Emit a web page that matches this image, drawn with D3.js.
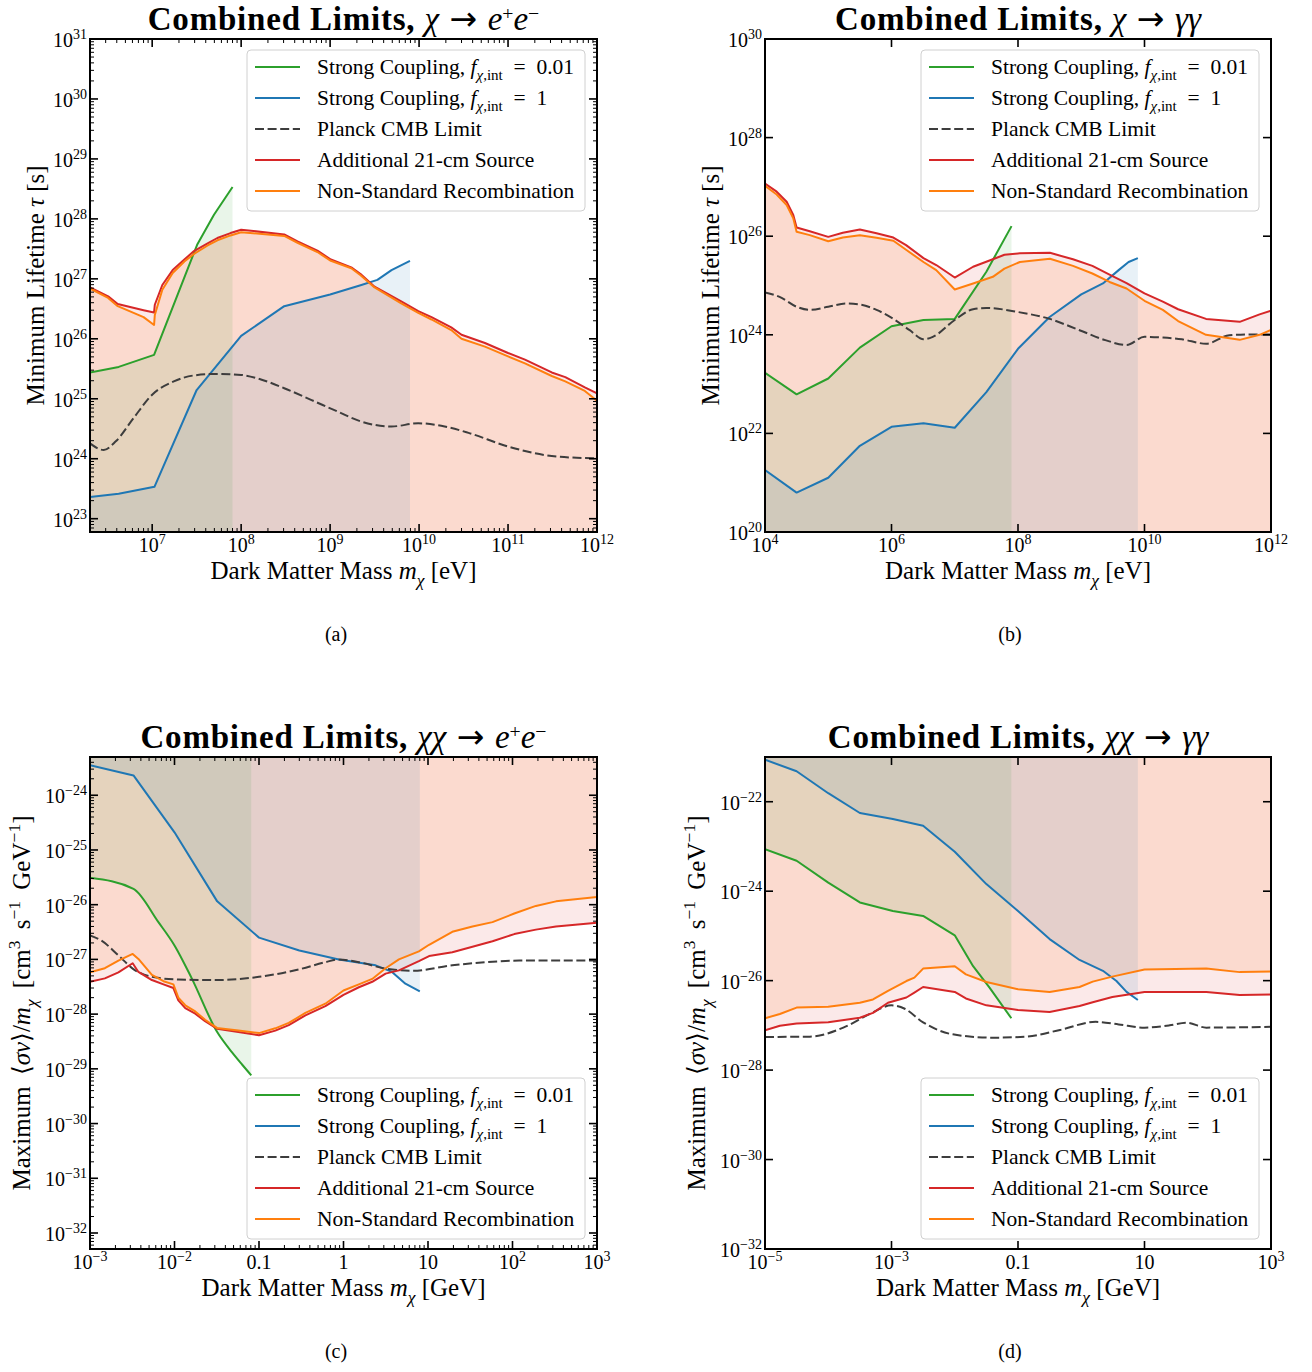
<!DOCTYPE html>
<html>
<head>
<meta charset="utf-8">
<script src="https://cdn.jsdelivr.net/npm/d3@7"></script>
<style>
  body { margin: 0; background: #fff; }
  svg { display: block; }
  text { font-family: "Liberation Serif", "DejaVu Serif", serif; fill: #000; }
</style>
</head>
<body>
<svg id="fig" width="1312" height="1372"></svg>
<script>
// ---------------- data ----------------
// (a) chi -> e+e-: minimum lifetime [s] vs mass [eV]
const massA = [2e6, 3.2e6, 4.1e6, 8e6, 1.05e7, 1.07e7, 1.3e7, 1.7e7, 2.3e7, 2.95e7, 4.2e7, 5.4e7, 7.6e7, 1e8, 3.05e8, 4.3e8, 7.2e8, 1.02e9, 1.73e9, 2.2e9, 3.16e9, 6.3e9, 9.8e9, 1.38e10, 2.3e10, 3e10, 5.5e10, 1e11, 1.55e11, 3.1e11, 4.4e11, 7.3e11, 1e12];
const redA = [7.2e26, 5.1e26, 3.8e26, 3.0e26, 2.75e26, 3.7e26, 7.9e26, 1.4e27, 2.1e27, 2.9e27, 3.9e27, 4.8e27, 5.8e27, 6.6e27, 5.5e27, 4.2e27, 2.95e27, 2.1e27, 1.55e27, 1.2e27, 7.4e26, 4.2e26, 2.9e26, 2.3e26, 1.55e26, 1.17e26, 8.5e25, 5.8e25, 4.5e25, 2.75e25, 2.3e25, 1.55e25, 1.23e25];
const orangeA = [6.9e26, 4.8e26, 3.5e26, 2.3e26, 1.7e26, 2.5e26, 6.6e26, 1.25e27, 1.95e27, 2.6e27, 3.6e27, 4.4e27, 5.3e27, 6.0e27, 5.2e27, 4.0e27, 2.8e27, 2.0e27, 1.5e27, 1.15e27, 7.2e26, 3.9e26, 2.7e26, 2.1e26, 1.4e26, 1.0e26, 7.4e25, 5.1e25, 3.9e25, 2.4e25, 1.95e25, 1.35e25, 9.3e24];
const greenMassA = [2e6, 4.2e6, 1.05e7, 3.2e7, 4.95e7, 8e7];
const greenA = [2.75e25, 3.4e25, 5.4e25, 3.7e27, 1.17e28, 3.4e28];
const blueMassA = [2e6, 4.2e6, 1.06e7, 3.16e7, 1e8, 3.05e8, 1e9, 2.2e9, 3.4e9, 4.9e9, 7.9e9];
const blueA = [2.3e23, 2.6e23, 3.4e23, 1.4e25, 1.12e26, 3.5e26, 5.5e26, 7.8e26, 9.6e26, 1.4e27, 2e27];
const planckMassA = [2e6, 2.85e6, 3.9e6, 6.2e6, 1e7, 1.75e7, 2.95e7, 5.4e7, 1e8, 1.67e8, 3.05e8, 6.1e8, 1.22e9, 2.2e9, 4.9e9, 9.8e9, 1.94e10, 3.6e10, 1e11, 2.6e11, 5e11, 1e12];
const planckA = [1.8e24, 1.4e24, 1.95e24, 4.8e24, 1.17e25, 1.95e25, 2.45e25, 2.6e25, 2.5e25, 2.1e25, 1.5e25, 9.6e24, 6.1e24, 4.2e24, 3.45e24, 3.9e24, 3.45e24, 2.7e24, 1.6e24, 1.15e24, 1.05e24, 1.02e24];

// (b) chi -> gamma gamma: minimum lifetime [s] vs mass [eV]
const massB = [1e4, 1.53e4, 2.2e4, 2.8e4, 3.16e4, 5.1e4, 1e5, 1.7e5, 3.16e5, 5.8e5, 1.07e6, 1.7e6, 3.2e6, 5.1e6, 1e7, 1.95e7, 4e7, 6.1e7, 1.07e8, 3.2e8, 7.4e8, 1.5e9, 2.8e9, 5.2e9, 1e10, 1.95e10, 3.4e10, 9.4e10, 3.2e11, 6.6e11, 1e12];
const redB = [1.17e27, 8e26, 5e26, 2.7e26, 1.5e26, 1.26e26, 9.7e25, 1.17e26, 1.37e26, 1.15e26, 9.4e25, 6.6e25, 3.6e25, 2.6e25, 1.45e25, 2.4e25, 3.4e25, 4.2e25, 4.5e25, 4.6e25, 3.4e25, 2.5e25, 1.67e25, 1.12e25, 6.9e24, 4.7e24, 3.3e24, 2.1e24, 1.83e24, 2.6e24, 3.1e24];
const orangeB = [1.05e27, 7e26, 4.3e26, 2.3e26, 1.23e26, 1.05e26, 7.9e25, 9.4e25, 1.05e26, 9.3e25, 8.1e25, 5.3e25, 3.0e25, 2.05e25, 8.3e24, 1.1e25, 1.5e25, 2.2e25, 3.0e25, 3.5e25, 2.5e25, 1.75e25, 1.18e25, 8.7e24, 4.9e24, 3.2e24, 1.9e24, 1e24, 7.9e23, 1e24, 1.26e24];
const greenMassB = [1e4, 3.16e4, 1e5, 3.16e5, 1e6, 3.2e6, 1e7, 3.16e7, 7.9e7];
const greenB = [1.7e23, 6.2e22, 1.3e23, 5.5e23, 1.49e24, 2e24, 2.1e24, 1.9e25, 1.6e26];
const blueMassB = [1e4, 3.16e4, 1e5, 3.16e5, 1e6, 3.2e6, 1e7, 3.16e7, 1e8, 3.16e8, 1e9, 2.2e9, 3.9e9, 5.6e9, 7.85e9];
const blueB = [1.8e21, 6.3e20, 1.26e21, 5.6e21, 1.36e22, 1.6e22, 1.3e22, 6.9e22, 5.2e23, 2.3e24, 6.6e24, 1.1e25, 2.05e25, 3e25, 3.6e25];
const planckMassB = [1e4, 1.7e4, 3.16e4, 5.1e4, 1e5, 1.94e5, 3.16e5, 5.8e5, 1.07e6, 1.94e6, 3.2e6, 4.5e6, 1e7, 1.95e7, 3.16e7, 1e8, 3.16e8, 9.4e8, 2.4e9, 5.2e9, 1e10, 1.95e10, 3.9e10, 9.4e10, 2.2e11, 5.1e11, 1e12];
const planckB = [7.2e24, 5.9e24, 3.7e24, 3.2e24, 3.7e24, 4.3e24, 4.1e24, 3.2e24, 2.1e24, 1.24e24, 8.1e23, 9.1e23, 2.0e24, 3.3e24, 3.5e24, 2.9e24, 2.1e24, 1.24e24, 7.8e23, 6.2e23, 9.1e23, 8.8e23, 8.1e23, 6.6e23, 9.8e23, 1.02e24, 1.02e24];

// (c) chi chi -> e+e-: maximum <sigma v>/m [cm^3 s^-1 GeV^-1] vs mass [GeV]
const massC = [1e-3, 1.5e-3, 2.17e-3, 3.2e-3, 3.74e-3, 5.4e-3, 7.4e-3, 9.7e-3, 1.11e-2, 1.34e-2, 1.76e-2, 2.3e-2, 3.18e-2, 5.7e-2, 0.1, 0.156, 0.225, 0.354, 0.61, 1.0, 1.52, 2.19, 3.15, 4.53, 7.8, 10.3, 19.4, 33.6, 58, 105, 189, 327, 1000];
const redC = [3.9e-28, 4.5e-28, 5.8e-28, 8.5e-28, 5.9e-28, 4.2e-28, 3.5e-28, 3.0e-28, 1.78e-28, 1.29e-28, 1.02e-28, 7.4e-29, 5.4e-29, 4.7e-29, 4.1e-29, 5e-29, 6.3e-29, 9.5e-29, 1.4e-28, 2.25e-28, 3.1e-28, 3.9e-28, 5.5e-28, 6.3e-28, 9.3e-28, 1.15e-27, 1.35e-27, 1.7e-27, 2.15e-27, 2.9e-27, 3.5e-27, 4e-27, 4.7e-27];
const orangeC = [5.8e-28, 6.9e-28, 9.5e-28, 1.26e-27, 1.02e-27, 5.2e-28, 4e-28, 3.5e-28, 2.0e-28, 1.45e-28, 1.12e-28, 7.9e-29, 5.6e-29, 5e-29, 4.5e-29, 5.5e-29, 6.9e-29, 1.05e-28, 1.55e-28, 2.7e-28, 3.5e-28, 4.4e-28, 6.9e-28, 1e-27, 1.4e-27, 1.85e-27, 3.2e-27, 4e-27, 4.8e-27, 6.9e-27, 9.5e-27, 1.15e-26, 1.38e-26];
const greenMassC = [1e-3, 3.27e-3, 6.45e-3, 1e-2, 1.6e-2, 3.2e-2, 4.8e-2, 6.3e-2, 8.1e-2];
const greenC = [3.1e-26, 1.95e-26, 4.8e-27, 1.8e-27, 4.5e-28, 4.7e-29, 2e-29, 1.2e-29, 7.6e-30];
const blueMassC = [1e-3, 3.27e-3, 1e-2, 3.2e-2, 0.1, 0.3, 0.88, 2.4, 3.75, 5.4, 8.0];
const blueC = [3.55e-24, 2.3e-24, 2.1e-25, 1.15e-26, 2.5e-27, 1.45e-27, 1e-27, 7.8e-28, 5.9e-28, 3.6e-28, 2.6e-28];
const planckMassC = [1e-3, 1.37e-3, 2.17e-3, 3.2e-3, 5.4e-3, 1.11e-2, 3.2e-2, 0.1, 0.3, 0.61, 0.88, 1.52, 3.15, 6.5, 19.4, 48, 120, 1000];
const planckC = [2.75e-27, 2.2e-27, 1.18e-27, 6.8e-28, 4.8e-28, 4.3e-28, 4.2e-28, 4.8e-28, 6.6e-28, 8.9e-28, 1e-27, 8.9e-28, 6.8e-28, 6.2e-28, 7.8e-28, 8.9e-28, 9.5e-28, 9.5e-28];

// (d) chi chi -> gamma gamma: maximum <sigma v>/m [cm^3 s^-1 GeV^-1] vs mass [GeV]
const massD = [1e-5, 1.72e-5, 3.16e-5, 1e-4, 3.16e-4, 5.1e-4, 8.8e-4, 1.72e-3, 2.3e-3, 3.16e-3, 1e-2, 1.5e-2, 3.16e-2, 0.1, 0.316, 0.94, 1.52, 3.1, 10, 95, 320, 1000];
const redD = [7.8e-28, 9.8e-28, 1.1e-27, 1.17e-27, 1.48e-27, 1.9e-27, 3.2e-27, 4.2e-27, 5.4e-27, 7.2e-27, 5.6e-27, 4e-27, 2.8e-27, 2.2e-27, 2.0e-27, 2.7e-27, 3.3e-27, 4.3e-27, 5.6e-27, 5.6e-27, 4.8e-27, 4.9e-27];
const orangeD = [1.44e-27, 1.8e-27, 2.5e-27, 2.6e-27, 3.2e-27, 3.8e-27, 5.9e-27, 9.8e-27, 1.17e-26, 1.86e-26, 2.1e-26, 1.38e-26, 9.3e-27, 6.4e-27, 5.6e-27, 7.2e-27, 9.5e-27, 1.23e-26, 1.78e-26, 1.86e-26, 1.55e-26, 1.61e-26];
const greenMassD = [1e-5, 3.16e-5, 1e-4, 3.16e-4, 1.05e-3, 3.16e-3, 1e-2, 1.95e-2, 3.57e-2, 7.85e-2];
const greenD = [8.7e-24, 4.8e-24, 1.55e-24, 5.6e-25, 3.6e-25, 2.8e-25, 1.03e-25, 2.1e-26, 6.9e-27, 1.44e-27];
const blueMassD = [1e-5, 3.16e-5, 1e-4, 3.16e-4, 1.05e-3, 3.16e-3, 1e-2, 3.16e-2, 0.1, 0.316, 0.94, 2.2, 3.6, 5.2, 7.85];
const blueD = [8.7e-22, 4.8e-22, 1.55e-22, 5.6e-23, 4.1e-23, 2.9e-23, 7.6e-24, 1.44e-24, 3.6e-25, 8.5e-26, 2.9e-26, 1.66e-26, 9.8e-27, 5.6e-27, 3.7e-27];
const planckMassD = [1e-5, 5.1e-5, 1.73e-4, 4.55e-4, 1e-3, 1.62e-3, 3.16e-3, 9.3e-3, 4.04e-2, 0.135, 0.46, 1.69, 3.9, 10, 25, 46, 95, 1000];
const planckD = [5.5e-28, 5.6e-28, 8.9e-28, 1.8e-27, 2.8e-27, 2.35e-27, 1.17e-27, 6.3e-28, 5.3e-28, 5.6e-28, 7.9e-28, 1.2e-27, 1.05e-27, 8.9e-28, 1e-27, 1.15e-27, 8.9e-28, 9.3e-28];

// tick values and labels ([mantissa text, exponent text])
const xTicksA = [1e7, 1e8, 1e9, 1e10, 1e11, 1e12];
const xLabelsA = [["10","7"],["10","8"],["10","9"],["10","10"],["10","11"],["10","12"]];
const yTicksA = [1e23, 1e24, 1e25, 1e26, 1e27, 1e28, 1e29, 1e30, 1e31];
const yLabelsA = [["10","23"],["10","24"],["10","25"],["10","26"],["10","27"],["10","28"],["10","29"],["10","30"],["10","31"]];
const xTicksB = [1e4, 1e6, 1e8, 1e10, 1e12];
const xLabelsB = [["10","4"],["10","6"],["10","8"],["10","10"],["10","12"]];
const yTicksB = [1e20, 1e22, 1e24, 1e26, 1e28, 1e30];
const yLabelsB = [["10","20"],["10","22"],["10","24"],["10","26"],["10","28"],["10","30"]];
const xTicksC = [1e-3, 1e-2, 0.1, 1, 10, 1e2, 1e3];
const xLabelsC = [["10","\u22123"],["10","\u22122"],["0.1",""],["1",""],["10",""],["10","2"],["10","3"]];
const yTicksC = [1e-32, 1e-31, 1e-30, 1e-29, 1e-28, 1e-27, 1e-26, 1e-25, 1e-24];
const yLabelsC = [["10","\u221232"],["10","\u221231"],["10","\u221230"],["10","\u221229"],["10","\u221228"],["10","\u221227"],["10","\u221226"],["10","\u221225"],["10","\u221224"]];
const xTicksD = [1e-5, 1e-3, 0.1, 10, 1e3];
const xLabelsD = [["10","\u22125"],["10","\u22123"],["0.1",""],["10",""],["10","3"]];
const yTicksD = [1e-32, 1e-30, 1e-28, 1e-26, 1e-24, 1e-22];
const yLabelsD = [["10","\u221232"],["10","\u221230"],["10","\u221228"],["10","\u221226"],["10","\u221224"],["10","\u221222"]];

const legendNames = ["Strong Coupling", "Strong Coupling", "Planck CMB Limit", "Additional 21-cm Source", "Non-Standard Recombination"];
const couplingFractions = ["0.01", "1"];

// ---------------- styles ----------------
const COLORS = { green: "#2ca02c", blue: "#1f77b4", planck: "#3d3d3d", red: "#d62728", orange: "#ff7f0e" };
const FILL_OPACITY = { green: 0.1, blue: 0.1, red: 0.1, orange: 0.12 };
const LINE_W = 2;
const DASH = "9,3.6";

const svg = d3.select("#fig");
const defs = svg.append("defs");

// writes a run of text pieces with italic / super / subscript support
function rich(sel, parts, size, opts = {}) {
  const supScale = opts.supScale || 0.7, supRaise = opts.supRaise || 0.4;
  let shift = 0;
  parts.forEach(p => {
    const fs = p.sup ? size * supScale : p.sub ? size * 0.7 : size;
    const target = p.sup ? -size * supRaise : p.sub ? size * 0.27 : 0;
    const ts = sel.append("tspan").text(p.t).attr("font-size", fs);
    if (target !== shift) { ts.attr("dy", target - shift); shift = target; }
    if (p.it) ts.attr("font-style", "italic");
    if (p.sans) ts.attr("font-family", "'DejaVu Sans', sans-serif");
    if (p.bold) ts.attr("font-weight", "bold").attr("letter-spacing", opts.boldSpacing || 0);
  });
}

function tickLabelParts(l) {
  return l[1] ? [{ t: l[0] }, { t: l[1], sup: true }] : [{ t: l[0] }];
}

function minorValues(domain) {
  const lo = Math.floor(Math.log10(domain[0])), hi = Math.ceil(Math.log10(domain[1]));
  const out = [];
  for (let k = lo; k <= hi; k++) {
    for (let m = 2; m <= 9; m++) {
      const v = m * Math.pow(10, k);
      if (v > domain[0] * 1.0001 && v < domain[1] * 0.9999) out.push(v);
    }
  }
  return out;
}

const ARROW = { t: " \u2192 ", sans: true };
const panels = [
  {
    id: "a", left: 90, top: 39, width: 507, height: 493,
    xDomain: [2e6, 1e12], yDomain: [6e22, 1e31], fillBelow: true, minor: true,
    xTicks: xTicksA, xLabels: xLabelsA, yTicks: yTicksA, yLabels: yLabelsA,
    mass: massA, red: redA, orange: orangeA,
    greenMass: greenMassA, green: greenA, blueMass: blueMassA, blue: blueA,
    planckMass: planckMassA, planck: planckA, greenCurve: d3.curveLinear,
    title: [{ t: "Combined Limits, ", bold: true }, { t: "\u03c7", it: true }, ARROW, { t: "e", it: true }, { t: "+", sup: true }, { t: "e", it: true }, { t: "\u2212", sup: true }],
    unit: "eV", yKind: "lifetime", legendAtTop: true, caption: "(a)", captionX: 336
  },
  {
    id: "b", left: 765, top: 39, width: 506, height: 493,
    xDomain: [1e4, 1e12], yDomain: [1e20, 1e30], fillBelow: true, minor: false,
    xTicks: xTicksB, xLabels: xLabelsB, yTicks: yTicksB, yLabels: yLabelsB,
    mass: massB, red: redB, orange: orangeB,
    greenMass: greenMassB, green: greenB, blueMass: blueMassB, blue: blueB,
    planckMass: planckMassB, planck: planckB, greenCurve: d3.curveLinear,
    title: [{ t: "Combined Limits, ", bold: true }, { t: "\u03c7", it: true }, ARROW, { t: "\u03b3\u03b3", it: true }],
    unit: "eV", yKind: "lifetime", legendAtTop: true, caption: "(b)", captionX: 1010
  },
  {
    id: "c", left: 90, top: 757, width: 507, height: 492,
    xDomain: [1e-3, 1e3], yDomain: [5.1e-33, 5e-24], fillBelow: false, minor: true,
    xTicks: xTicksC, xLabels: xLabelsC, yTicks: yTicksC, yLabels: yLabelsC,
    mass: massC, red: redC, orange: orangeC,
    greenMass: greenMassC, green: greenC, blueMass: blueMassC, blue: blueC,
    planckMass: planckMassC, planck: planckC, greenCurve: d3.curveMonotoneX,
    title: [{ t: "Combined Limits, ", bold: true }, { t: "\u03c7\u03c7", it: true }, ARROW, { t: "e", it: true }, { t: "+", sup: true }, { t: "e", it: true }, { t: "\u2212", sup: true }],
    unit: "GeV", yKind: "xsec", legendAtTop: false, caption: "(c)", captionX: 336
  },
  {
    id: "d", left: 765, top: 757, width: 506, height: 492,
    xDomain: [1e-5, 1e3], yDomain: [1e-32, 1e-21], fillBelow: false, minor: false,
    xTicks: xTicksD, xLabels: xLabelsD, yTicks: yTicksD, yLabels: yLabelsD,
    mass: massD, red: redD, orange: orangeD,
    greenMass: greenMassD, green: greenD, blueMass: blueMassD, blue: blueD,
    planckMass: planckMassD, planck: planckD, greenCurve: d3.curveLinear,
    title: [{ t: "Combined Limits, ", bold: true }, { t: "\u03c7\u03c7", it: true }, ARROW, { t: "\u03b3\u03b3", it: true }],
    unit: "GeV", yKind: "xsec", legendAtTop: false, caption: "(d)", captionX: 1010
  }
];

panels.forEach(drawPanel);

function drawPanel(p) {
  const x = d3.scaleLog().domain(p.xDomain).range([0, p.width]);
  const y = d3.scaleLog().domain(p.yDomain).range([p.height, 0]);
  const g = svg.append("g").attr("transform", `translate(${p.left},${p.top})`);

  defs.append("clipPath").attr("id", "clip-" + p.id)
    .append("rect").attr("width", p.width).attr("height", p.height);
  const plot = g.append("g").attr("clip-path", `url(#clip-${p.id})`);

  // excluded regions: below the lifetime bounds, above the cross-section bounds
  const edge = p.fillBelow ? p.height : 0;
  const zip = (xs, ys) => xs.map((m, i) => [m, ys[i]]);
  const area = (curve) => d3.area().x(d => x(d[0])).y0(edge).y1(d => y(d[1])).curve(curve);
  const line = (curve) => d3.line().x(d => x(d[0])).y(d => y(d[1])).curve(curve);

  const fills = [
    { key: "orange", data: zip(p.mass, p.orange), curve: d3.curveLinear },
    { key: "red", data: zip(p.mass, p.red), curve: d3.curveLinear },
    { key: "green", data: zip(p.greenMass, p.green), curve: p.greenCurve },
    { key: "blue", data: zip(p.blueMass, p.blue), curve: d3.curveLinear }
  ];
  fills.forEach(f => {
    plot.append("path").datum(f.data)
      .attr("d", area(f.curve))
      .attr("fill", COLORS[f.key]).attr("fill-opacity", FILL_OPACITY[f.key])
      .attr("stroke", "none");
  });

  const lines = [
    { key: "green", data: zip(p.greenMass, p.green), curve: p.greenCurve },
    { key: "blue", data: zip(p.blueMass, p.blue), curve: d3.curveLinear },
    { key: "planck", data: zip(p.planckMass, p.planck), curve: d3.curveMonotoneX, dash: true },
    { key: "red", data: zip(p.mass, p.red), curve: d3.curveLinear },
    { key: "orange", data: zip(p.mass, p.orange), curve: d3.curveLinear }
  ];
  lines.forEach(l => {
    plot.append("path").datum(l.data)
      .attr("d", line(l.curve))
      .attr("fill", "none").attr("stroke", COLORS[l.key])
      .attr("stroke-width", LINE_W).attr("stroke-linejoin", "round")
      .attr("stroke-dasharray", l.dash ? DASH : null);
  });

  // ticks on all four sides, pointing inward
  const tickG = g.append("g").attr("stroke", "#000");
  const majLen = 8, minLen = 4;
  const xMinor = p.minor ? minorValues(p.xDomain) : [];
  const yMinor = p.minor ? minorValues(p.yDomain) : [];
  p.xTicks.forEach(v => {
    const px = x(v);
    tickG.append("line").attr("x1", px).attr("x2", px).attr("y1", p.height).attr("y2", p.height - majLen).attr("stroke-width", 1.6);
    tickG.append("line").attr("x1", px).attr("x2", px).attr("y1", 0).attr("y2", majLen).attr("stroke-width", 1.6);
  });
  xMinor.forEach(v => {
    const px = x(v);
    tickG.append("line").attr("x1", px).attr("x2", px).attr("y1", p.height).attr("y2", p.height - minLen).attr("stroke-width", 1);
    tickG.append("line").attr("x1", px).attr("x2", px).attr("y1", 0).attr("y2", minLen).attr("stroke-width", 1);
  });
  p.yTicks.forEach(v => {
    const py = y(v);
    tickG.append("line").attr("x1", 0).attr("x2", majLen).attr("y1", py).attr("y2", py).attr("stroke-width", 1.6);
    tickG.append("line").attr("x1", p.width).attr("x2", p.width - majLen).attr("y1", py).attr("y2", py).attr("stroke-width", 1.6);
  });
  yMinor.forEach(v => {
    const py = y(v);
    tickG.append("line").attr("x1", 0).attr("x2", minLen).attr("y1", py).attr("y2", py).attr("stroke-width", 1);
    tickG.append("line").attr("x1", p.width).attr("x2", p.width - minLen).attr("y1", py).attr("y2", py).attr("stroke-width", 1);
  });

  // frame
  g.append("rect").attr("width", p.width).attr("height", p.height)
    .attr("fill", "none").attr("stroke", "#000").attr("stroke-width", 2);

  // tick labels
  const TICK_FS = 20;
  p.xTicks.forEach((v, i) => {
    const t = g.append("text").attr("x", x(v)).attr("y", p.height + 20)
      .attr("text-anchor", "middle").attr("font-size", TICK_FS);
    rich(t, tickLabelParts(p.xLabels[i]), TICK_FS);
  });
  p.yTicks.forEach((v, i) => {
    const t = g.append("text").attr("x", -3).attr("y", y(v) + 8)
      .attr("text-anchor", "end").attr("font-size", TICK_FS);
    rich(t, tickLabelParts(p.yLabels[i]), TICK_FS);
  });

  // axis labels
  const AX_FS = 25;
  const xl = g.append("text").attr("x", p.width / 2).attr("y", p.height + 47)
    .attr("text-anchor", "middle").attr("font-size", AX_FS);
  rich(xl, [{ t: "Dark Matter Mass " }, { t: "m", it: true }, { t: "\u03c7", it: true, sub: true }, { t: ` [${p.unit}]` }], AX_FS);

  const yOff = p.yKind === "lifetime" ? -46 : -60;
  const yl = g.append("text").attr("text-anchor", "middle").attr("font-size", AX_FS)
    .attr("transform", `translate(${yOff},${p.height / 2}) rotate(-90)`);
  if (p.yKind === "lifetime") {
    rich(yl, [{ t: "Minimum Lifetime " }, { t: "\u03c4", it: true }, { t: " [s]" }], AX_FS);
  } else {
    rich(yl, [
      { t: "Maximum \u2009\u27e8" }, { t: "\u03c3v", it: true }, { t: "\u27e9/" }, { t: "m", it: true }, { t: "\u03c7", it: true, sub: true },
      { t: " \u2009[cm" }, { t: "3", sup: true }, { t: " \u2009s" }, { t: "\u22121", sup: true }, { t: " \u2009GeV" }, { t: "\u22121", sup: true }, { t: "]" }
    ], AX_FS);
  }

  // title
  const TITLE_FS = 33;
  const tt = g.append("text").attr("x", p.width / 2).attr("y", -9)
    .attr("text-anchor", "middle").attr("font-size", TITLE_FS);
  rich(tt, p.title, TITLE_FS, { supScale: 0.6, supRaise: 0.3, boldSpacing: 0.8 });

  // sub-figure caption
  svg.append("text").attr("x", p.captionX).attr("y", p.top + p.height + 109)
    .attr("text-anchor", "middle").attr("font-size", 20).text(p.caption);

  // legend
  const LEG_FS = 21.5;
  const boxW = 338, boxH = 161;
  const bx = p.width - 12 - boxW;
  const by = p.legendAtTop ? 11 : p.height - 10 - boxH;
  const leg = g.append("g").attr("transform", `translate(${bx},${by})`);
  leg.append("rect").attr("width", boxW).attr("height", boxH).attr("rx", 4).attr("ry", 4)
    .attr("fill", "#fff").attr("fill-opacity", 0.8).attr("stroke", "#d0d0d0").attr("stroke-width", 1);
  const legKeys = ["green", "blue", "planck", "red", "orange"];
  legKeys.forEach((k, i) => {
    const cy = 17 + i * 31;
    leg.append("line").attr("x1", 8).attr("x2", 53).attr("y1", cy).attr("y2", cy)
      .attr("stroke", COLORS[k]).attr("stroke-width", LINE_W)
      .attr("stroke-dasharray", k === "planck" ? DASH : null);
    const t = leg.append("text").attr("x", 70).attr("y", cy + 7).attr("font-size", LEG_FS);
    if (i < 2) {
      rich(t, [{ t: legendNames[i] + ", " }, { t: "f", it: true }, { t: "\u03c7", it: true, sub: true }, { t: ",int", sub: true }, { t: "\u2002=\u2002" + couplingFractions[i] }], LEG_FS);
    } else {
      rich(t, [{ t: legendNames[i] }], LEG_FS);
    }
  });
}
</script>
</body>
</html>
